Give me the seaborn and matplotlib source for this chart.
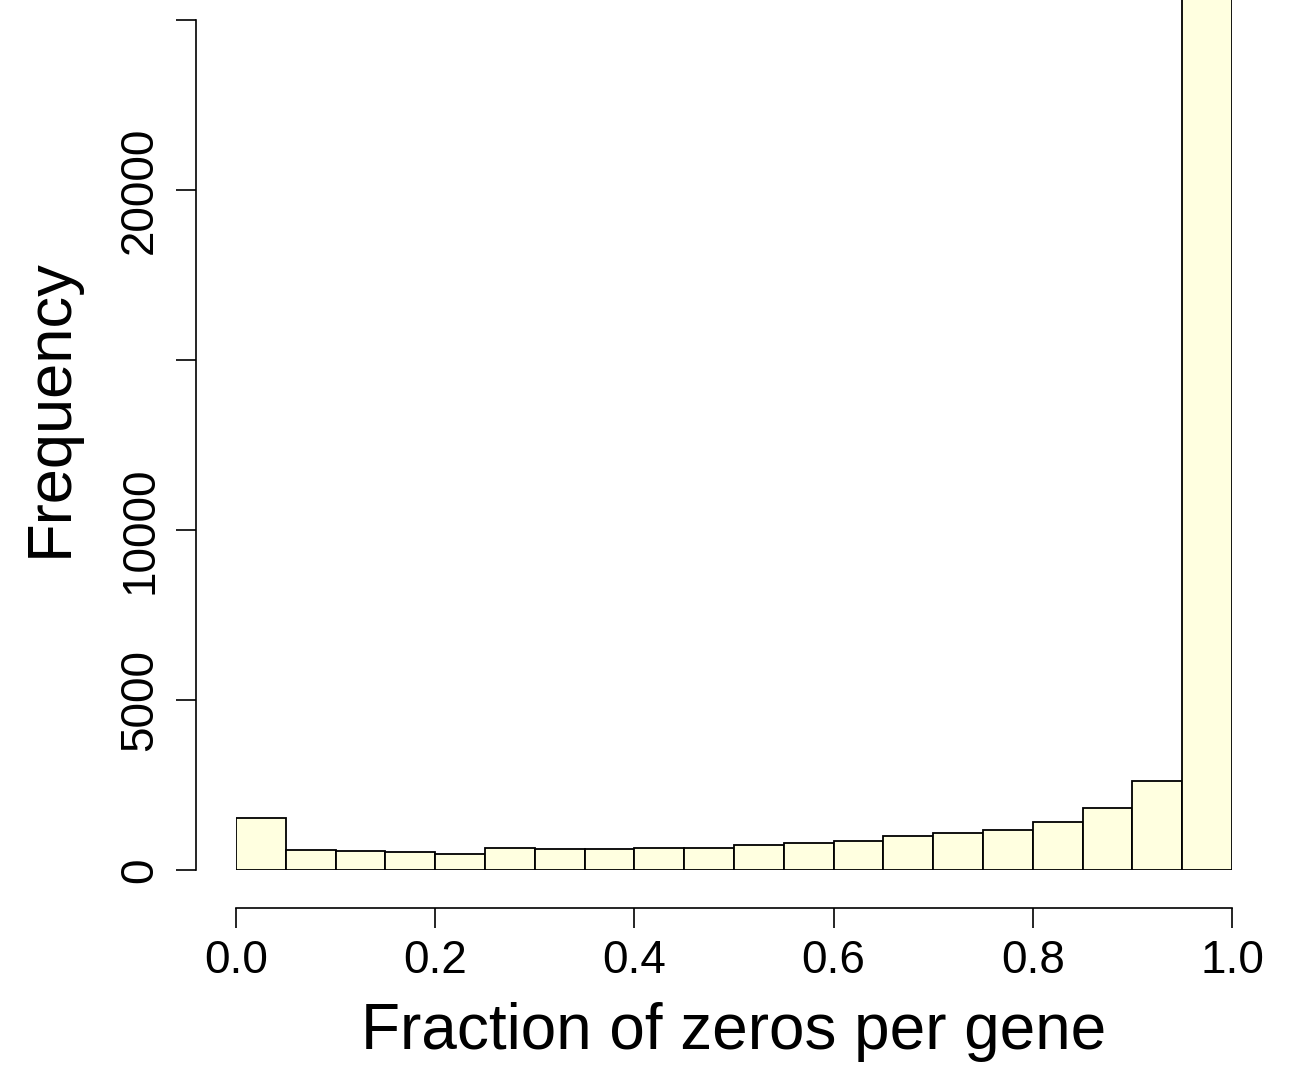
import matplotlib
matplotlib.use("Agg")
import matplotlib.pyplot as plt
import numpy as np
import seaborn as sns

# Histogram counts (bin width 0.05); last bin is cut off at the top
bin_centers = [0.025, 0.075, 0.125, 0.175, 0.225, 0.275, 0.325, 0.375, 0.425, 0.475,
               0.525, 0.575, 0.625, 0.675, 0.725, 0.775, 0.825, 0.875, 0.925, 0.975]
counts = [1540, 590, 570, 540, 480, 640, 620, 610, 655, 640,
          730, 795, 865, 1000, 1080, 1180, 1420, 1835, 2630, 27000]

yticks = [0, 5000, 10000, 15000, 20000, 25000]
ytick_labels = ["0", "5000", "10000", "", "20000", ""]
xticks = [0.0, 0.2, 0.4, 0.6, 0.8, 1.0]
xtick_labels = ["0.0", "0.2", "0.4", "0.6", "0.8", "1.0"]

sns.set_style("white")
plt.rcParams['font.family'] = ['Liberation Sans', 'DejaVu Sans']
plt.rcParams['text.color'] = 'black'
plt.rcParams['axes.labelcolor'] = 'black'
plt.rcParams['xtick.color'] = 'black'
plt.rcParams['ytick.color'] = 'black'

W, H = 1294, 1070
fig = plt.figure(figsize=(W / 100, H / 100), dpi=100)
ax = fig.add_axes([236 / W, (H - 870) / H, 996 / W, 870 / H])

sns.histplot(x=bin_centers, weights=counts, bins=20, binrange=(0, 1), ax=ax,
             color='#FFFFE0', edgecolor='black', linewidth=1.3, alpha=1)

ax.set_xlim(0, 1)
ax.set_ylim(0, 870 / 0.034)

# R-style detached axes
for s in ['top', 'right']:
    ax.spines[s].set_visible(False)
ax.spines['left'].set_position(('outward', 28.8))
ax.spines['bottom'].set_position(('outward', 27.4))
ax.spines['left'].set_bounds(0, 25000)
ax.spines['bottom'].set_bounds(0, 1)
for s in ['left', 'bottom']:
    ax.spines[s].set_linewidth(1.2)
    ax.spines[s].set_color('black')

ax.set_yticks(yticks)
ax.set_yticklabels(ytick_labels, rotation=90, va='center', fontsize=33)
ax.set_xticks(xticks)
ax.set_xticklabels(xtick_labels, fontsize=33)
ax.tick_params(axis='both', direction='out', length=14.4, width=1.2, color='black',
               labelcolor='black', left=True, bottom=True)
ax.tick_params(axis='y', pad=10)
ax.tick_params(axis='x', pad=8)

ax.set_ylabel("Frequency", fontsize=45.5, color='black')
ax.set_xlabel("Fraction of zeros per gene", fontsize=46, color='black')
ax.yaxis.set_label_coords((50 - 236) / 996, (870 - 408) / 870)
ax.xaxis.set_label_coords(0.5, (870 - 1032) / 870)
ax.yaxis.label.set_va('center')
ax.xaxis.label.set_va('center')

fig.savefig("out.png", dpi=100)
